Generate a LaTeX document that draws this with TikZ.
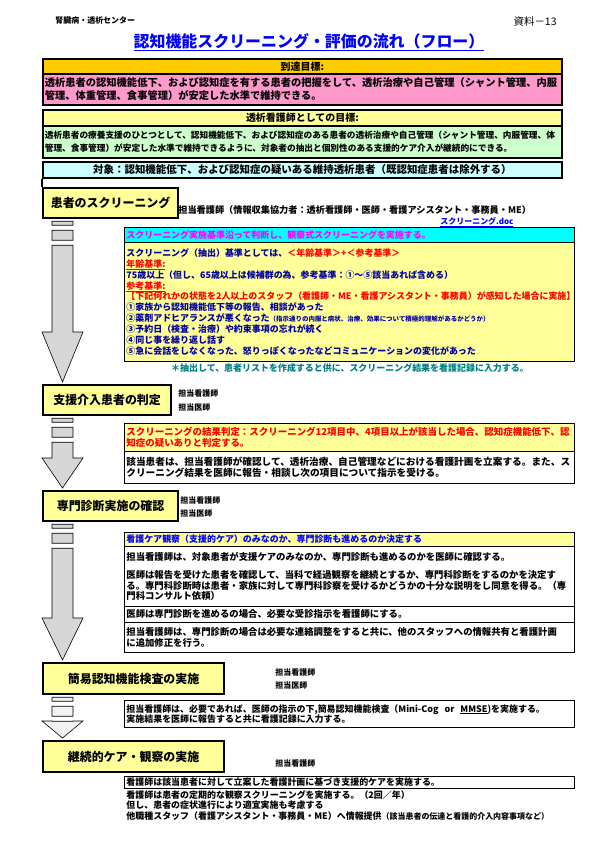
\documentclass[tikz,border=0pt]{standalone}
\usepackage{fontspec}
\setmainfont{Noto Sans CJK JP}
\usetikzlibrary{positioning, calc}
\definecolor{cgold}{HTML}{FFCC00}
\definecolor{cpink}{HTML}{FF99CC}
\definecolor{clemon}{HTML}{FFFF99}
\definecolor{cmint}{HTML}{CCFFCC}
\definecolor{cice}{HTML}{CCFFFF}
\definecolor{caqua}{HTML}{00FFFF}
\definecolor{cmagenta}{HTML}{FF00FF}
\definecolor{cnavy}{HTML}{0000A0}
\definecolor{cteal}{HTML}{008080}
\definecolor{clink}{HTML}{0000FF}
\definecolor{cgrey}{HTML}{D6D6D6}
\definecolor{cpale}{HTML}{F2F2F2}
\tikzset{
  every picture/.style={line width=0.8pt},
  cell/.style={draw, fill=#1, anchor=north west, align=left, inner xsep=2bp, inner ysep=0pt,
               text width=446bp, minimum width=450bp, font=\bfseries\fontsize{9}{10.5}\selectfont},
  cell/.default=white,
  band/.style={draw, line width=1.8bp, fill=#1, anchor=north west, inner xsep=2bp, inner ysep=0pt,
               text width=515bp, minimum width=519bp},
  stepbox/.style={draw, line width=2.2bp, fill=clemon, anchor=north west, inner sep=0pt,
                  font=\bfseries\fontsize{12}{14}\selectfont},
  who/.style={anchor=west, inner sep=0pt, font=\bfseries\fontsize{8}{9}\selectfont},
  blockarrow/.style={draw, line width=0.6pt, fill=#1},
}
% striped block arrow from one step box down to the next
\newcommand{\downblock}[4]{%
  \draw[blockarrow=#4] let \p1=(#1.south west), \p2=(#2.north west) in
    (\x1+10bp,\y1-2bp) rectangle (\x1+31bp,\y1-6bp)
    (\x1+10bp,\y1-11bp) rectangle (\x1+31bp,\y1-21bp)
    (\x1+10bp,\y1-26bp) -- (\x1+31bp,\y1-26bp) -- (\x1+31bp,\y2+#3+2bp)
    -- (\x1+41bp,\y2+#3+2bp) -- (\x1+20.5bp,\y2+2bp) -- (\x1,\y2+#3+2bp)
    -- (\x1+10bp,\y2+#3+2bp) -- cycle;}

\begin{document}
\begin{tikzpicture}[x=1bp, y=-1bp]
  \fill[white] (0,0) rectangle (595,842);
  \useasboundingbox (0,0) rectangle (595,842);

  \node[anchor=west, inner sep=0pt, font=\bfseries\fontsize{8}{9}\selectfont] (dept) at (55,20) {腎臓病・透析センター};
  \node[anchor=east, inner sep=0pt, font=\fontsize{10.5}{12}\selectfont] (docno) at (557,22) {資料－13};
  \node[inner sep=0pt, text=clink, font=\bfseries\fontsize{16}{18}\selectfont] (title) at (309,42) {\underline{認知機能スクリーニング・評価の流れ（フロー）}};

  \node[band=cgold, minimum height=15bp, align=center, font=\bfseries\fontsize{10}{12}\selectfont] (goalh) at (42,58) {到達目標:};
  \node[band=cpink, minimum height=31bp, align=left, font=\bfseries\fontsize{10.3}{13}\selectfont] (goalb) at (42,73)
    {透析患者の認知機能低下、および認知症を有する患者の把握をして、透析治療や自己管理（シャント管理、内服\\
     管理、体重管理、食事管理）が安定した水準で維持できる。};
  \node[band=clemon, minimum height=16bp, align=center, font=\bfseries\fontsize{10}{12}\selectfont] (nurseh) at (42,109) {透析看護師としての目標:};
  \node[band=cmint, minimum height=32bp, align=left, font=\bfseries\fontsize{8.7}{12.5}\selectfont] (nurseb) at (42,125)
    {透析患者の療養支援のひとつとして、認知機能低下、および認知症のある患者の透析治療や自己管理（シャント管理、内服管理、体\\
     管理、食事管理）が安定した水準で維持できるように、対象者の抽出と個別性のある支援的ケア介入が継続的にできる。};
  \node[band=cice, minimum height=16bp, align=center, font=\bfseries\fontsize{10.5}{12}\selectfont] (target) at (42,161)
    {対象：認知機能低下、および認知症の疑いある維持透析患者（既認知症患者は除外する）};

  % screening
  \node[stepbox, minimum width=135bp, minimum height=30bp] (s1) at (42,187) {患者のスクリーニング};
  \draw[line width=1.8bp] (target.south west) -- (target.south west |- s1.north);
  \node[who, font=\bfseries\fontsize{9.2}{10}\selectfont] (s1who) at (178,210) {担当看護師（情報収集協力者：透析看護師・医師・看護アシスタント・事務員・ME）};
  \node[who, text=clink] (s1doc) at (440,222) {\underline{スクリーニング.doc}};
  \node[cell=caqua, minimum height=15bp, text=cmagenta] (c0) at (124,227) {スクリーニング実施基準沿って判断し、観察式スクリーニングを実施する。};
  \node[cell=clemon, minimum height=119bp, text=cnavy, font=\bfseries\fontsize{9}{10.9}\selectfont] (c1) at (124,242)
    {スクリーニング（抽出）基準としては、{\color{red}＜年齢基準＞+＜参考基準＞}\\
     {\color{red}\underline{年齢基準:}}\\
     75歳以上（但し、65歳以上は候補群の為、参考基準：①～⑤該当あれば含める）\\
     {\color{red}\underline{参考基準:}}\\
     {\color{red}【下記何れかの状態を2人以上のスタッフ（看護師・ME・看護アシスタント・事務員）が感知した場合に実施】}\\
     ①家族から認知機能低下等の報告、相談があった\\
     ②薬剤アドヒアランスが悪くなった{\fontsize{6.5}{10.9}\selectfont（指示通りの内服と病状、治療、効果について積極的理解があるかどうか）}\\
     ③予約日（検査・治療）や約束事項の忘れが続く\\
     ④同じ事を繰り返し話す\\
     ⑤急に会話をしなくなった、怒りっぽくなったなどコミュニケーションの変化があった};
  \node[inner sep=0pt, text=cteal, font=\bfseries\fontsize{9}{10}\selectfont] (c1note) at (350,368) {＊抽出して、患者リストを作成すると供に、スクリーニング結果を看護記録に入力する。};

  % judgement
  \node[stepbox, minimum width=128bp, minimum height=30bp] (s2) at (42,384) {支援介入患者の判定};
  \node[who] (s2nurse) at (178,393) {担当看護師};
  \node[who] (s2doctor) at (178,407) {担当医師};
  \node[cell=clemon, minimum height=28bp, text=red, font=\bfseries\fontsize{9.5}{11}\selectfont] (j0) at (124,423)
    {スクリーニングの結果判定：スクリーニング12項目中、4項目以上が該当した場合、認知症機能低下、認\\知症の疑いありと判定する。};
  \node[cell, minimum height=32bp, font=\bfseries\fontsize{9.7}{11}\selectfont] (j1) at (124,451)
    {該当患者は、担当看護師が確認して、透析治療、自己管理などにおける看護計画を立案する。また、ス\\クリーニング結果を医師に報告・相談し次の項目について指示を受ける。};

  % specialist check
  \node[stepbox, minimum width=135bp, minimum height=30bp] (s3) at (42,490) {専門診断実施の確認};
  \node[who] (s3nurse) at (180,500) {担当看護師};
  \node[who] (s3doctor) at (180,513) {担当医師};
  \node[cell=clemon, minimum height=14bp, text=clink] (k0) at (124,532) {看護ケア観察（支援的ケア）のみなのか、専門診断も進めるのか決定する};
  \node[cell, minimum height=60bp, font=\bfseries\fontsize{9.4}{10.5}\selectfont] (k1) at (124,546)
    {担当看護師は、対象患者が支援ケアのみなのか、専門診断も進めるのかを医師に確認する。\\[8bp]
     医師は報告を受けた患者を確認して、当科で経過観察を継続とするか、専門科診断をするのかを決定す\\
     る。専門科診断時は患者・家族に対して専門科診察を受けるかどうかの十分な説明をし同意を得る。（専\\
     門科コンサルト依頼）};
  \node[cell, minimum height=16bp, font=\bfseries\fontsize{9.4}{10.5}\selectfont] (k2) at (124,606) {医師は専門診断を進めるの場合、必要な受診指示を看護師にする。};
  \node[cell, minimum height=30bp, font=\bfseries\fontsize{9.4}{11}\selectfont] (k3) at (124,622)
    {担当看護師は、専門診断の場合は必要な連絡調整をすると共に、他のスタッフへの情報共有と看護計画\\に追加修正を行う。};

  % short test
  \node[stepbox, minimum width=181bp, minimum height=31bp] (s4) at (42,662) {簡易認知機能検査の実施};
  \node[who] (s4nurse) at (275,672) {担当看護師};
  \node[who] (s4doctor) at (275,685) {担当医師};
  \node[cell, minimum height=27bp] (m0) at (124,700)
    {担当看護師は、必要であれば、医師の指示の下,簡易認知機能検査（Mini-Cog\ \ or\ \ \underline{MMSE})を実施する。\\
     実施結果を医師に報告すると共に看護記録に入力する。};

  % follow-up
  \node[stepbox, minimum width=181bp, minimum height=31bp] (s5) at (42,740) {継続的ケア・観察の実施};
  \node[who] (s5nurse) at (275,763) {担当看護師};
  \node[cell, minimum height=12bp] (f0) at (124,776) {看護師は該当患者に対して立案した看護計画に基づき支援的ケアを実施する。};
  \node[anchor=north west, inner xsep=2bp, inner ysep=0pt, align=left, font=\bfseries\fontsize{9}{10.5}\selectfont] (f1) at (124,790)
    {看護師は患者の定期的な観察スクリーニングを実施する。（2回／年）\\
     但し、患者の症状進行により適宜実施も考慮する\\
     他職種スタッフ（看護アシスタント・事務員・ME）へ情報提供{\fontsize{8}{10.5}\selectfont（該当患者の伝達と看護的介入内容事項など）}};

  \downblock{s1}{s2}{50bp}{cgrey}
  \downblock{s2}{s3}{30bp}{cgrey}
  \downblock{s3}{s4}{42bp}{cgrey}
  \downblock{s4}{s5}{17bp}{cpale}
\end{tikzpicture}
\end{document}
